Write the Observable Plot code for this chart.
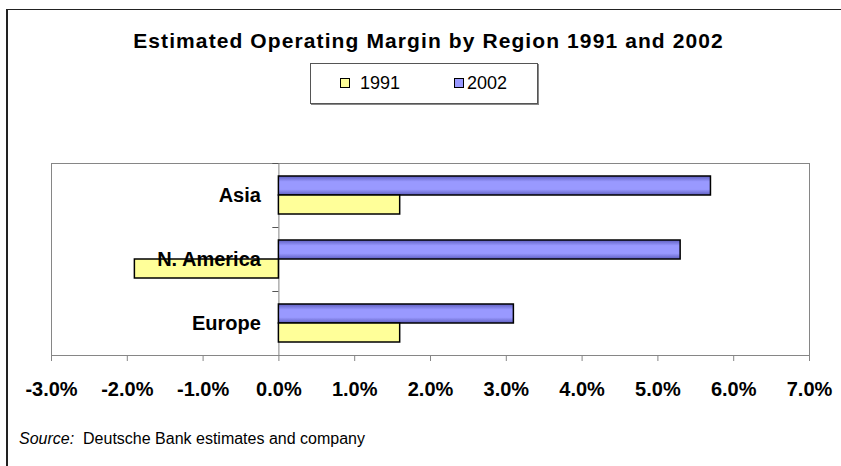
<!DOCTYPE html>
<html><head><meta charset="utf-8">
<script src="https://cdn.jsdelivr.net/npm/d3@7"></script>
<script src="https://cdn.jsdelivr.net/npm/@observablehq/plot@0.6"></script>
<style>
html,body{margin:0;padding:0;background:#fff;}
#wrap{position:relative;width:841px;height:466px;overflow:hidden;font-family:"Liberation Sans",Arial,sans-serif;color:#000;}
#outer{position:absolute;left:6px;top:9px;width:900px;height:600px;border-left:2px solid #222;border-top:1px solid #222;}
#title{position:absolute;left:16px;width:825px;top:30px;text-align:center;font-size:21px;line-height:1;font-weight:bold;letter-spacing:1.1px;white-space:nowrap;}
#legend{position:absolute;left:310px;top:63px;width:226px;height:39px;border:1px solid #555;box-shadow:1px 1px 0 #888;background:#fff;}
.item{position:absolute;top:8px;display:flex;align-items:center;font-size:18px;line-height:1;height:22px;}
.sw{width:8px;height:8px;border:1px solid #000;}
#chart{position:absolute;left:0;top:0;}
#source{position:absolute;left:19px;top:431px;font-size:16px;line-height:1;white-space:nowrap;}
</style></head><body>
<div id="wrap">
  <div id="outer"></div>
  <div id="title"></div>
  <div id="legend"></div>
  <div id="chart"></div>
  <div id="source"></div>
</div>
<script>
// ---- data ----
const title = "Estimated Operating Margin by Region 1991 and 2002";
const regions = ["Asia", "N. America", "Europe"];
const seriesNames = ["1991", "2002"];
const values1991 = [1.6, -1.9, 1.6];
const values2002 = [5.7, 5.3, 3.1];
const xTicks = [-3, -2, -1, 0, 1, 2, 3, 4, 5, 6, 7];
const seriesColors = ["#FFFF99", "#9999FF"];
const sourceLabel = "Source:";
const sourceText = "Deutsche Bank estimates and company";

// ---- text ----
document.getElementById("title").textContent = title;
document.getElementById("source").innerHTML = "<i>" + sourceLabel + "</i>&nbsp; " + sourceText;

// legend
const legend = document.getElementById("legend");
const itemLefts = [29, 143];
const swGaps = [10, 3];
seriesNames.forEach((s, i) => {
  const it = document.createElement("div");
  it.className = "item";
  it.style.left = itemLefts[i] + "px";
  const sw = document.createElement("div");
  sw.className = "sw";
  sw.style.background = seriesColors[i];
  sw.style.marginRight = swGaps[i] + "px";
  const tx = document.createElement("span");
  tx.textContent = s;
  it.appendChild(sw); it.appendChild(tx);
  legend.appendChild(it);
});

// ---- chart ----
const d1991 = regions.map((r, i) => ({region: r, value: values1991[i]}));
const d2002 = regions.map((r, i) => ({region: r, value: values2002[i]}));
const catTick = 0.08;

const svg = Plot.plot({
  width: 841,
  height: 466,
  marginTop: 163,
  marginBottom: 111,
  marginLeft: 51,
  marginRight: 32,
  style: {fontFamily: "Liberation Sans, Arial, sans-serif", background: "transparent", overflow: "visible"},
  x: {domain: [-3, 7], label: null},
  y: {domain: regions, padding: 0, axis: null, label: null},
  marks: [
    Plot.frame({stroke: "#868686"}),
    Plot.ruleX([0], {stroke: "#868686"}),
    Plot.ruleY(regions, {y: d => d, x1: 0, x2: -catTick, dy: -32, stroke: "#555"}),
    Plot.barX(d2002, {x: "value", y: "region", fill: "url(#grad2002)", stroke: "#000", strokeWidth: 1.5, insetTop: 13, insetBottom: 32}),
    Plot.barX(d1991, {x: "value", y: "region", fill: seriesColors[0], stroke: "#000", strokeWidth: 1.5, insetTop: 32, insetBottom: 13}),
    Plot.axisX({ticks: xTicks, tickFormat: d => d.toFixed(1) + "%", tickSize: 6, tickPadding: 20, fontSize: 20, fontWeight: "bold", stroke: "#868686", fill: "#000", label: null}),
    Plot.text(regions, {y: d => d, x: 0, text: d => d, textAnchor: "end", dx: -18, fontSize: 20, fontWeight: "bold", fill: "#000"})
  ]
});
const ns = "http://www.w3.org/2000/svg";
const defs = document.createElementNS(ns, "defs");
defs.innerHTML = '<linearGradient id="grad2002" x1="0" y1="0" x2="0" y2="1">' +
  '<stop offset="0" stop-color="#5f5fc0"/><stop offset="0.3" stop-color="' + seriesColors[1] + '"/>' +
  '<stop offset="0.7" stop-color="' + seriesColors[1] + '"/><stop offset="1" stop-color="#5f5fc0"/></linearGradient>';
svg.insertBefore(defs, svg.firstChild);
document.getElementById("chart").appendChild(svg);
</script>
</body></html>
